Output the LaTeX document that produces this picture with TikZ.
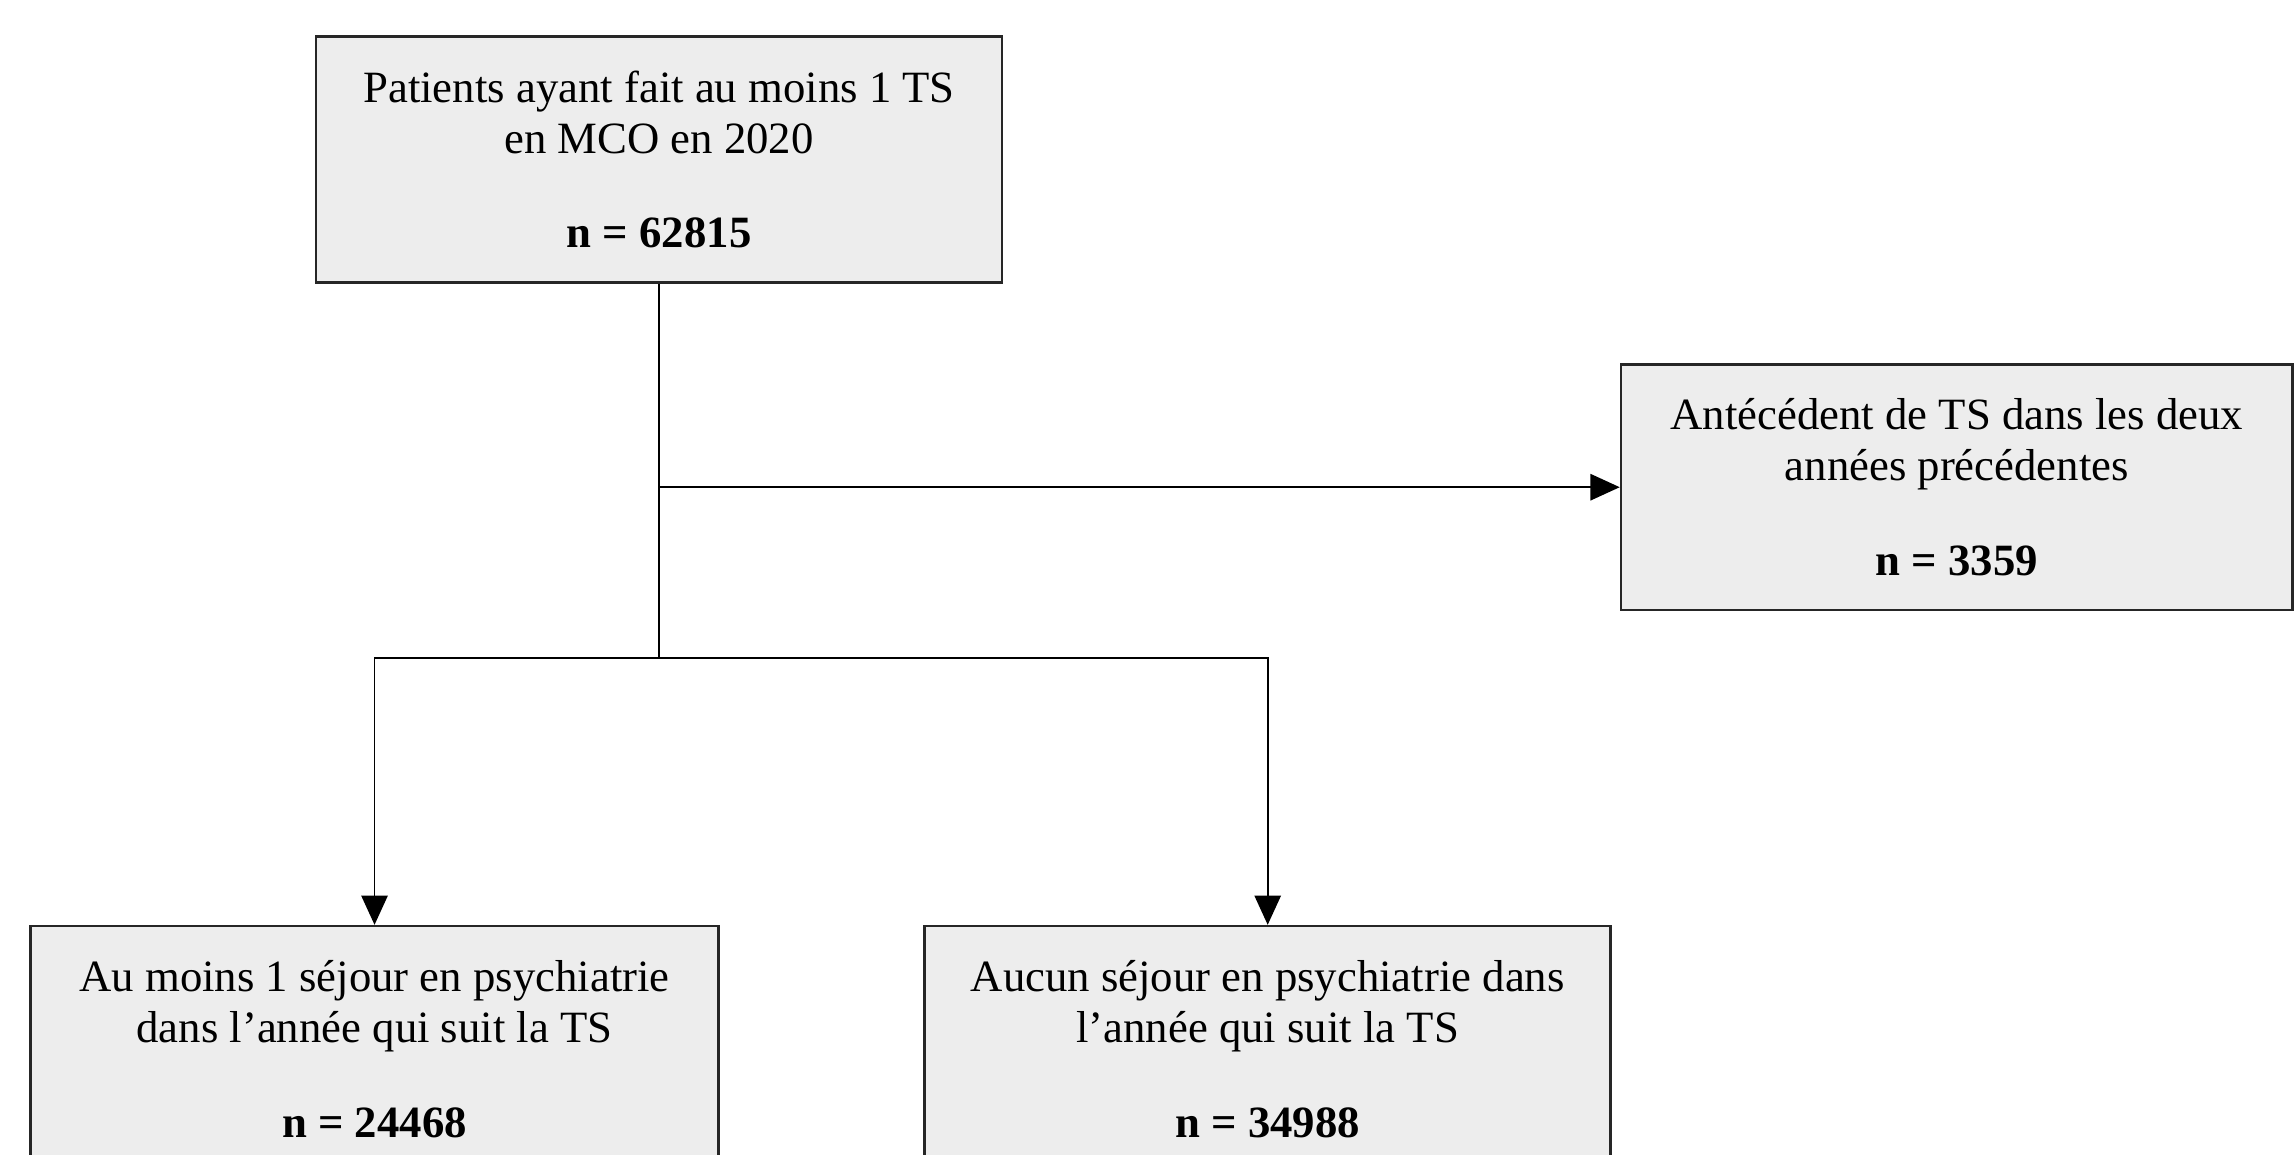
\documentclass[tikz,border=0pt]{standalone}
\usepackage{fontspec}
\setmainfont{Liberation Serif}
\usetikzlibrary{arrows.meta}

\tikzset{
  box/.style={draw=black!85, fill=black!7, line width=0.5pt, minimum width=46.9mm,
    minimum height=16.8mm, align=center, inner sep=0pt,
    font=\fontsize{8.7}{9.9}\selectfont},
  flow/.style={line width=0.35pt},
  arr/.style={flow, -{Triangle[length=2mm, width=1.8mm]}}
}

\begin{document}
\begin{tikzpicture}[x=0.1mm, y=-0.1mm]
    \useasboundingbox (0,0) rectangle (1568,789);
    \node[box] (patients) at (450.5, 109) {Patients ayant fait au moins 1 TS\\en MCO en 2020\\[3mm]\textbf{n = 62815}};
    \node[box, minimum width=45.9mm] (antecedent) at (1337.5, 333) {Antécédent de TS dans les deux\\années précédentes\\[3mm]\textbf{n = 3359}};
    \node[box, minimum width=47mm] (psy) at (256, 717) {Au moins 1 séjour en psychiatrie\\dans l’année qui suit la TS\\[3mm]\textbf{n = 24468}};
    \node[box] (nopsy) at (866.5, 717) {Aucun séjour en psychiatrie dans\\l’année qui suit la TS\\[3mm]\textbf{n = 34988}};
    \coordinate (split) at (450.5, 450);
    \coordinate (branch) at (patients.south |- antecedent.west);
    \draw[flow] (patients.south) -- (split);
    \draw[arr] (branch) -- (antecedent.west);
    \draw[arr] (split) -| (psy.north);
    \draw[arr] (split) -| (nopsy.north);
\end{tikzpicture}
\end{document}
